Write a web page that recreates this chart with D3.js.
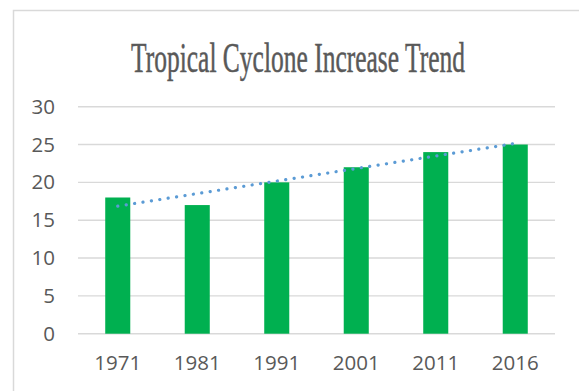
<!DOCTYPE html>
<html>
<head>
<meta charset="utf-8">
<script src="https://cdn.jsdelivr.net/npm/d3@7"></script>
<style>
  html, body { margin: 0; padding: 0; background: #ffffff; }
  svg { display: block; }
</style>
</head>
<body>
<svg id="chart" width="579" height="391"></svg>
<script>
// Tropical cyclone counts per year
const years = ["1971", "1981", "1991", "2001", "2011", "2016"];
const cyclones = [18, 17, 20, 22, 24, 25];
const yTicks = [0, 5, 10, 15, 20, 25, 30];
const chartTitle = "Tropical Cyclone Increase Trend";

const svg = d3.select("#chart");
const W = 579, H = 391;
const plot = { left: 78, right: 555, top: 106.7, bottom: 333.7 };

// outer chart frame (top and left edges visible)
svg.append("path")
  .attr("d", `M13.5,${H} L13.5,10.5 L${W},10.5`)
  .attr("fill", "none")
  .attr("stroke", "#d9d9d9")
  .attr("stroke-width", 1.5);

const x = d3.scaleBand().domain(years).range([plot.left, plot.right]).padding(0);
const y = d3.scaleLinear().domain([0, 30]).range([plot.bottom, plot.top]);

// horizontal gridlines
svg.append("g").selectAll("line")
  .data(yTicks)
  .join("line")
  .attr("x1", plot.left).attr("x2", plot.right)
  .attr("y1", d => y(d)).attr("y2", d => y(d))
  .attr("stroke", "#d9d9d9")
  .attr("stroke-width", 1.4);

const labelFont = "'Open Sans', 'Liberation Sans', sans-serif";

// y axis labels
const yAxis = d3.axisLeft(y).tickValues(yTicks).tickSize(0).tickPadding(0);
const gy = svg.append("g").attr("transform", "translate(55,0)").call(yAxis);
gy.select(".domain").remove();
gy.selectAll("text")
  .attr("font-family", labelFont)
  .attr("font-size", 20.5)
  .attr("fill", "#595959");

// x axis labels
const xAxis = d3.axisBottom(x).tickSize(0).tickPadding(0);
const gx = svg.append("g").attr("transform", `translate(0,${plot.bottom + 22})`).call(xAxis);
gx.select(".domain").remove();
gx.selectAll("text")
  .attr("font-family", labelFont)
  .attr("font-size", 20.5)
  .attr("fill", "#595959");

// bars
const barW = x.bandwidth() * 0.315;
svg.append("g").selectAll("rect")
  .data(years.map((yr, i) => ({ yr, v: cyclones[i] })))
  .join("rect")
  .attr("x", d => x(d.yr) + x.bandwidth() / 2 - barW / 2)
  .attr("y", d => y(d.v))
  .attr("width", barW)
  .attr("height", d => y(0) - y(d.v))
  .attr("fill", "#00b050");

// linear trendline (least squares over category index)
const idx = cyclones.map((_, i) => i + 1);
const mx = d3.mean(idx), my = d3.mean(cyclones);
const slope = d3.sum(idx, (k, i) => (k - mx) * (cyclones[i] - my)) / d3.sum(idx, k => (k - mx) ** 2);
const intercept = my - slope * mx;
const trend = [1, idx.length].map(k => ({ yr: years[k - 1], v: intercept + slope * k }));

svg.append("path")
  .datum(trend)
  .attr("d", d3.line().x(d => x(d.yr) + x.bandwidth() / 2).y(d => y(d.v)))
  .attr("fill", "none")
  .attr("stroke", "#5b9bd5")
  .attr("stroke-width", 3.2)
  .attr("stroke-linecap", "round")
  .attr("stroke-dasharray", "0.1 8.4");

// title: condensed serif, horizontally squeezed to fit its box
const titleW = 334, titleCx = 298;
const title = svg.append("text")
  .attr("font-family", "'Liberation Serif', 'DejaVu Serif', serif")
  .attr("font-size", 42)
  .attr("fill", "#595959")
  .attr("stroke", "#595959")
  .attr("stroke-width", 0.5)
  .attr("text-anchor", "middle")
  .text(chartTitle);
const natural = title.node().getComputedTextLength();
title.attr("transform", `translate(${titleCx},72) scale(${titleW / natural},1)`);
</script>
</body>
</html>
